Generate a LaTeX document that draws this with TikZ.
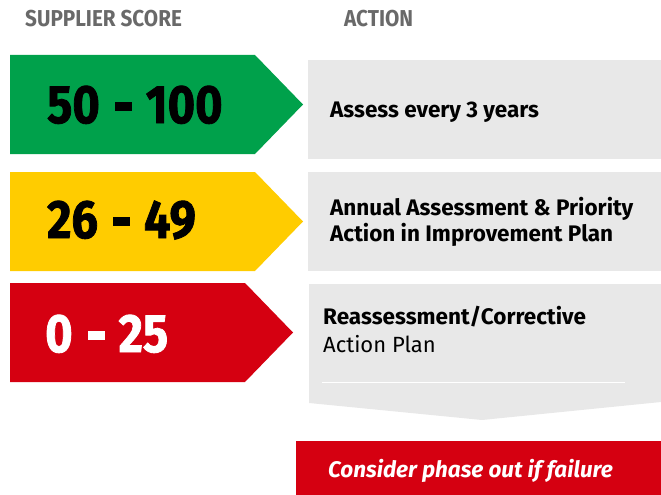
\documentclass[tikz,border=0pt]{standalone}
\usepackage{fontspec}
\setmainfont{Fira Sans}
\newfontfamily\heavyfont[FakeBold=1.6]{Fira Sans Bold}
\definecolor{cgreen}{RGB}{0,161,75}
\definecolor{cyellow}{RGB}{255,204,0}
\definecolor{cred}{RGB}{213,0,17}
\definecolor{cgray}{RGB}{232,232,232}
\definecolor{chead}{RGB}{105,105,105}
\newcommand{\dsh}{\hspace{15pt}\rule[12.5pt]{17pt}{9pt}\hspace{14pt}}
\newcommand{\narrowsc}[1]{\scalebox{0.87}[1]{#1}}
\begin{document}
\begin{tikzpicture}[x=1pt,y=-1pt,
  head/.style={text=chead,font=\fontsize{23}{23}\selectfont\bfseries,anchor=base west,inner sep=0pt},
  score/.style={font=\fontsize{54}{54}\heavyfont,anchor=base west,inner sep=0pt},
  act/.style={font=\fontsize{22.5}{22.5}\selectfont\bfseries,anchor=base west,inner sep=0pt},
  actr/.style={font=\fontsize{22}{22}\selectfont,anchor=base west,inner sep=0pt}]
\useasboundingbox (0,0) rectangle (661,495);
% headers
\node[head] (h1) at (25,27) {\scalebox{0.9}[1]{SUPPLIER SCORE}};
\node[head] (h2) at (344,27) {\scalebox{0.9}[1]{ACTION}};
% arrows
\fill[cgreen] (10,55) -- (255,55) -- (303,104.5) -- (255,154) -- (10,154) -- cycle;
\fill[cyellow] (10,172) -- (255,172) -- (303,221.5) -- (255,271) -- (10,271) -- cycle;
\fill[cred] (10,283) -- (245,283) -- (293,332.5) -- (245,382) -- (10,382) -- cycle;
% gray boxes
\fill[cgray] (308,60) rectangle (661,159);
\fill[cgray] (308,172) rectangle (661,271);
\fill[cgray] (309,284) -- (661,284) -- (661,402) -- (482,420) -- (309,403) -- cycle;
\draw[white,line width=1pt] (322,382) -- (625,382);
% red box
\fill[cred] (296,441) rectangle (661,495);
% scores
\node[score] (s1) at (47,123) {\narrowsc{50}\dsh\narrowsc{100}};
\node[score] (s2) at (47,238) {\narrowsc{26}\dsh\narrowsc{49}};
\node[score,text=white] (s3) at (45,352) {\narrowsc{0}\dsh\narrowsc{25}};
% actions
\node[act] (a1) at (330,117) {Assess every 3 years};
\node[act] (a2) at (330,215) {Annual Assessment \& Priority};
\node[act] (a2b) at (330,241) {Action in Improvement Plan};
\node[act] (a3) at (323,324) {Reassessment/Corrective};
\node[actr] (a3b) at (323,352) {Action Plan};
\node[act,text=white,font=\fontsize{22.5}{22.5}\selectfont\bfseries\itshape] (c) at (328,477) {Consider phase out if failure};
\end{tikzpicture}
\end{document}
